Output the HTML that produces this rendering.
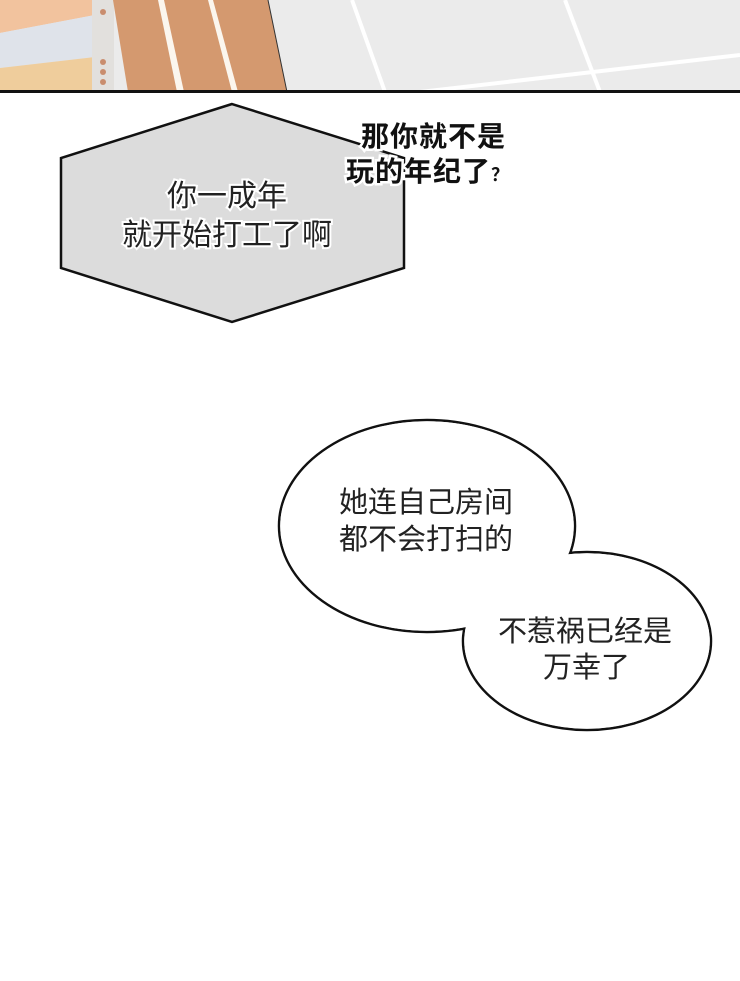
<!DOCTYPE html>
<html><head><meta charset="utf-8"><style>
html,body{margin:0;padding:0;background:#fff}
svg{display:block}
text{font-family:"Liberation Sans","Noto Sans CJK SC",sans-serif}
</style></head><body>
<svg width="740" height="981" viewBox="0 0 740 981" xmlns="http://www.w3.org/2000/svg">
<rect width="740" height="981" fill="#fff"/>
<rect x="0" y="0" width="740" height="92" fill="#ebebeb"/>
<polygon points="0,0 95,0 95,15 0,33" fill="#f2c39e"/>
<polygon points="0,33 95,15 95,57 0,68" fill="#dfe3ea"/>
<polygon points="0,68 95,57 95,92 0,92" fill="#efcd9c"/>
<rect x="92" y="0" width="22" height="92" fill="#e2e0dd"/>
<circle cx="103" cy="62" r="3" fill="#c98d6e"/><circle cx="103" cy="72" r="3" fill="#c98d6e"/><circle cx="103" cy="82" r="3" fill="#c98d6e"/><circle cx="103" cy="12" r="3" fill="#c98d6e"/>
<polygon points="113,0 268,0 287,92 128,92" fill="#d4996f"/>
<polygon points="158,0 164,0 184,92 177,92" fill="#fbf6ee"/>
<polygon points="208,0 213,0 238,92 232,92" fill="#fbf6ee"/>
<line x1="268" y1="0" x2="287" y2="92" stroke="#333" stroke-width="1"/>
<line x1="352" y1="0" x2="385" y2="92" stroke="#fff" stroke-width="4"/>
<line x1="565" y1="0" x2="600" y2="92" stroke="#fff" stroke-width="4"/>
<line x1="420" y1="92" x2="740" y2="55" stroke="#fff" stroke-width="4"/>
<rect x="0" y="90" width="740" height="3" fill="#111"/>
<polygon points="232,104 61,158 61,268 232,322 404,268 404,158" fill="#dcdcdc" stroke="#111" stroke-width="2.5"/>
<g font-size="30" text-anchor="middle" fill="#222" stroke="#fff" stroke-width="4" paint-order="stroke">
<text x="227" y="206">你一成年</text>
<text x="227" y="245">就开始打工了啊</text>
</g>
<g font-size="28" font-weight="bold" fill="#111" stroke="#fff" stroke-width="5" paint-order="stroke" letter-spacing="1">
<text x="361" y="146">那你就不是</text>
<text x="346" y="181">玩的年纪了<tspan font-size="18">？</tspan></text>
</g>
<ellipse cx="427" cy="526" rx="148" ry="106" fill="#fff" stroke="#111" stroke-width="2.5"/>
<ellipse cx="587" cy="641" rx="124" ry="89" fill="#fff" stroke="#111" stroke-width="2.5"/>
<ellipse cx="427" cy="526" rx="146.8" ry="104.8" fill="#fff"/>
<ellipse cx="587" cy="641" rx="122.8" ry="87.8" fill="#fff"/>
<g font-size="29" fill="#222">
<text x="339" y="512">她连自己房间</text>
<text x="339" y="549">都不会打扫的</text>
<text x="498" y="641">不惹祸已经是</text>
<text x="543" y="677">万幸了</text>
</g>
</svg>
</body></html>
